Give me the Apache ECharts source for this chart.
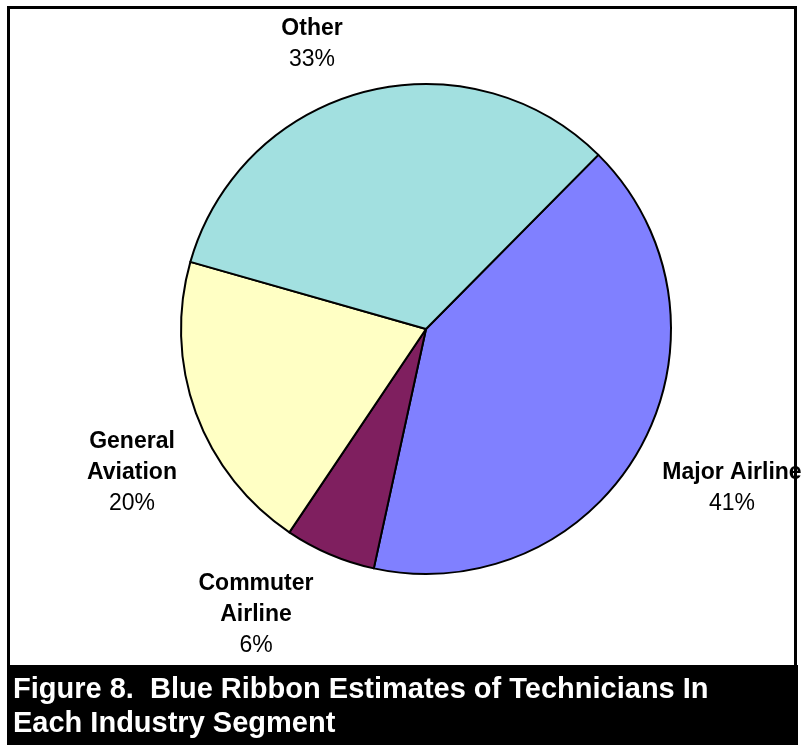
<!DOCTYPE html>
<html>
<head>
<meta charset="utf-8">
<script src="https://cdn.jsdelivr.net/npm/echarts@6/dist/echarts.min.js"></script>
<style>
  html, body { margin: 0; padding: 0; background: #ffffff; }
  #chart { width: 805px; height: 745px; }
</style>
</head>
<body>
<div id="chart"></div>
<script>
// Industry segments, in clockwise drawing order
const categories = ['Major Airline', 'Commuter\nAirline', 'General\nAviation', 'Other'];
// Share of technicians per segment (percent)
const values = [41, 6, 20, 33];
const sliceColors = ['#8080FF', '#7F1F5F', '#FFFFC4', '#A2E0E0'];

const captionLines = [
  'Figure 8.  Blue Ribbon Estimates of Technicians In',
  'Each Industry Segment'
];

// Label block centres (layout only)
const labelCentres = [
  [732, 488],
  [256, 615],
  [132, 473],
  [312, 44]
];

const FONT = '"Liberation Sans", Arial, sans-serif';

const chart = echarts.init(document.getElementById('chart'), null, { renderer: 'canvas' });

chart.setOption({
  backgroundColor: '#ffffff',
  animation: false,
  series: [{
    type: 'pie',
    center: [426, 329],
    radius: 245,
    startAngle: 45.3,
    clockwise: true,
    avoidLabelOverlap: false,
    itemStyle: { borderColor: '#000000', borderWidth: 2 },
    label: {
      show: true,
      position: 'outside',
      fontFamily: FONT,
      formatter: function (p) {
        const nameLines = p.name.split('\n').map(function (s) { return '{n|' + s + '}'; });
        return nameLines.join('\n') + '\n{v|' + p.value + '%}';
      },
      rich: {
        n: { fontFamily: FONT, fontWeight: 'bold', fontSize: 23, color: '#000000', lineHeight: 31, align: 'center' },
        v: { fontFamily: FONT, fontWeight: 'normal', fontSize: 23, color: '#000000', lineHeight: 31, align: 'center' }
      }
    },
    labelLine: { show: false },
    labelLayout: function (params) {
      const c = labelCentres[params.dataIndex];
      return { x: c[0], y: c[1], align: 'center', verticalAlign: 'middle', hideOverlap: false };
    },
    emphasis: { disabled: true },
    data: categories.map(function (name, i) {
      return { name: name, value: values[i], itemStyle: { color: sliceColors[i] } };
    })
  }],
  graphic: [
    {
      type: 'rect',
      z: 100,
      shape: { x: 8.5, y: 7.5, width: 787, height: 700 },
      style: { fill: null, stroke: '#000000', lineWidth: 3 }
    },
    {
      type: 'rect',
      z: 101,
      shape: { x: 7, y: 665, width: 791, height: 80 },
      style: { fill: '#000000' }
    },
    {
      type: 'text',
      z: 102,
      left: 13,
      top: 675,
      style: {
        text: captionLines[0],
        fill: '#ffffff',
        font: 'bold 29px ' + FONT
      }
    },
    {
      type: 'text',
      z: 102,
      left: 13,
      top: 709,
      style: {
        text: captionLines[1],
        fill: '#ffffff',
        font: 'bold 29px ' + FONT
      }
    }
  ]
});
</script>
</body>
</html>
